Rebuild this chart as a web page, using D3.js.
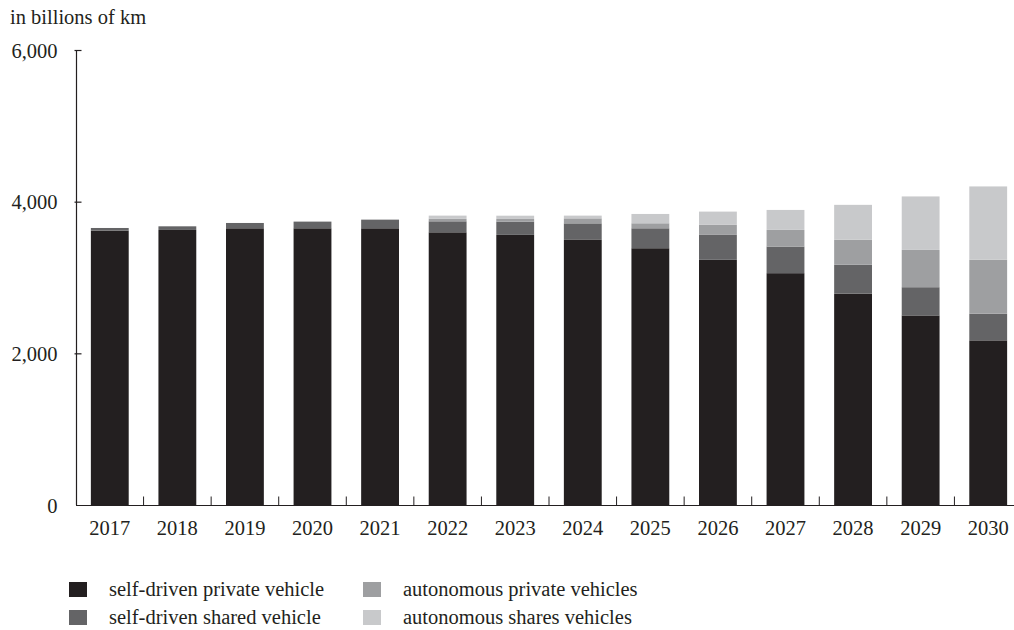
<!DOCTYPE html>
<html>
<head>
<meta charset="utf-8">
<script src="https://cdn.jsdelivr.net/npm/d3@7"></script>
<style>
  body { margin: 0; background: #fff; }
  svg text { font-family: "Liberation Serif", "DejaVu Serif", serif; fill: #231f20; }
</style>
</head>
<body>
<div id="chart"></div>
<script>
// values in billions of km
var years = ["2017","2018","2019","2020","2021","2022","2023","2024","2025","2026","2027","2028","2029","2030"]
var selfPrivate = [3618, 3627, 3649, 3649, 3649, 3596, 3562, 3496, 3386, 3233, 3057, 2786, 2500, 2171]
var selfShared  = [35, 48, 70, 88, 114, 145, 175, 218, 263, 329, 351, 382, 372, 351]
var autoPrivate = [0, 0, 0, 0, 0, 32, 35, 66, 66, 132, 220, 329, 492, 711]
var autoShared  = [0, 0, 0, 0, 0, 43, 43, 36, 123, 175, 263, 461, 705, 968]

var seriesNames = ["self-driven private vehicle", "self-driven shared vehicle", "autonomous private vehicles", "autonomous shares vehicles"]
var seriesColours = ["#231f20", "#646466", "#9e9fa1", "#c8c9cb"]
var yTicks = [0, 2000, 4000, 6000]

var w = 1014, h = 630
var fontSize = "20.5px"

var svg = d3.select("#chart")
	.append("svg")
	.attr("width", w)
	.attr("height", h)

// build rows for the stack
var keys = ["p", "s", "ap", "as"]
var rows = years.map(function(y, i) {
	return {year: y, p: selfPrivate[i], s: selfShared[i], ap: autoPrivate[i], as: autoShared[i]}
})
var stacked = d3.stack().keys(keys)(rows)

var x = d3.scaleBand()
	.domain(years)
	.range([76, 1022])
	.paddingInner(0.44)
	.paddingOuter(0.22)

var y = d3.scaleLinear()
	.domain([0, 6000])
	.range([505, 50])

// bars
svg.append("g")
	.selectAll("g")
	.data(stacked)
	.enter()
	.append("g")
	.style("fill", function(d, i) { return seriesColours[i] })
	.selectAll("rect")
	.data(function(d) { return d })
	.enter()
	.append("rect")
	.attr("x", function(d) { return x(d.data.year) })
	.attr("width", x.bandwidth())
	.attr("y", function(d) { return y(d[1]) })
	.attr("height", function(d) { return y(d[0]) - y(d[1]) })

// y axis
var yAxis = d3.axisLeft(y)
	.tickValues(yTicks)
	.tickFormat(d3.format(","))
	.tickSize(0)
	.tickPadding(19)

var yG = svg.append("g")
	.attr("transform", "translate(76.5,0)")
	.call(yAxis)
yG.select(".domain").remove()
yG.append("line")
	.attr("y1", y(6000))
	.attr("y2", y(0))
	.attr("stroke", "#231f20")
	.attr("stroke-width", 1.2)
yG.selectAll(".tick").filter(function(d) { return d > 0 })
	.append("line")
	.attr("x1", -2)
	.attr("x2", 5)
	.attr("stroke", "#231f20")
	.attr("stroke-width", 1.2)
yG.selectAll("text")
	.style("font-size", fontSize)
	.attr("dy", "0.35em")

// x axis
var xG = svg.append("g")
	.attr("transform", "translate(0," + (y(0) + 0.5) + ")")
	.call(d3.axisBottom(x).tickSize(0).tickPadding(15))
xG.select(".domain").remove()
xG.append("line")
	.attr("x1", 76)
	.attr("x2", w)
	.attr("stroke", "#231f20")
	.attr("stroke-width", 1.2)
xG.selectAll("text").style("font-size", fontSize)

// little ticks between the bars
xG.selectAll(".sep")
	.data(years.slice(1))
	.enter()
	.append("line")
	.attr("x1", function(d) { return x(d) - x.step() * 0.22 })
	.attr("x2", function(d) { return x(d) - x.step() * 0.22 })
	.attr("y1", 0)
	.attr("y2", -9)
	.attr("stroke", "#231f20")
	.attr("stroke-width", 1)

// unit label
svg.append("text")
	.attr("x", 10)
	.attr("y", 24)
	.style("font-size", fontSize)
	.text("in billions of km")

// legend
var legend = svg.append("g")
	.selectAll("g")
	.data(seriesNames)
	.enter()
	.append("g")
	.attr("transform", function(d, i) {
		var col = Math.floor(i / 2), row = i % 2
		return "translate(" + (69 + col * 294) + "," + (582 + row * 28) + ")"
	})

legend.append("rect")
	.attr("width", 18)
	.attr("height", 15)
	.style("fill", function(d, i) { return seriesColours[i] })

legend.append("text")
	.attr("x", 40)
	.attr("y", 14)
	.style("font-size", fontSize)
	.text(function(d) { return d })
</script>
</body>
</html>
